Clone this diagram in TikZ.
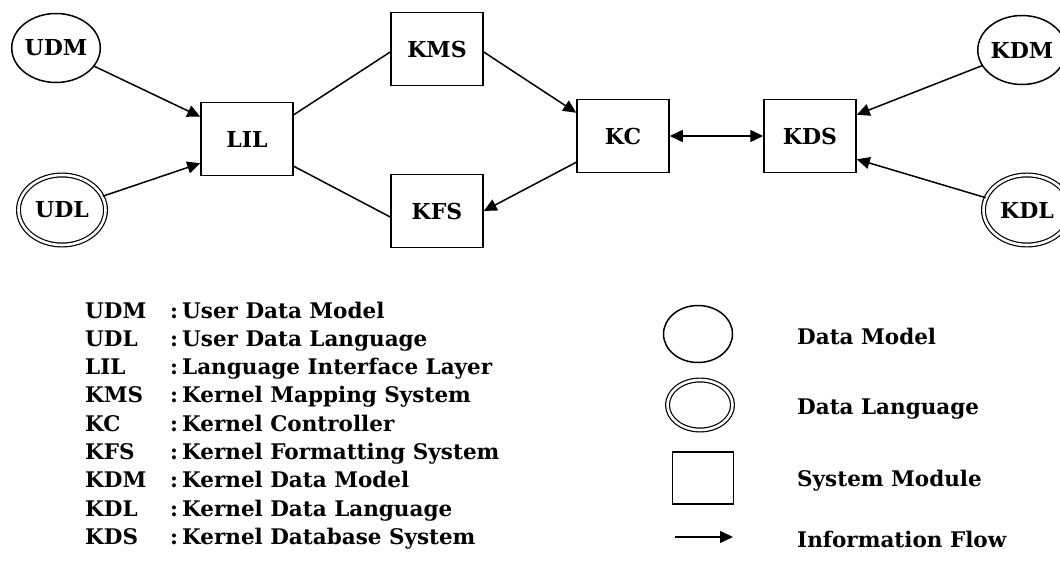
\documentclass[tikz,border=0pt]{standalone}
\usepackage{fontspec}
\setmainfont{DejaVu Serif}
\usetikzlibrary{shapes.geometric,arrows.meta,calc}
\begin{document}
\begin{tikzpicture}[x=1pt,y=-1pt,
  lbl/.style={font=\fontsize{22}{26}\selectfont\bfseries},
  mod/.style={draw, line width=1.5pt, minimum width=92pt, minimum height=73pt, inner sep=0pt, lbl},
  dm/.style={draw, ellipse, line width=1.5pt, minimum width=87pt, minimum height=69pt, inner sep=0pt, lbl},
  dl/.style={draw, ellipse, double, double distance=2.6pt, line width=1.2pt, minimum width=87pt, minimum height=70pt, inner sep=0pt, lbl},
  tip/.tip={Triangle[length=13pt,width=12pt]},
  flow/.style={line width=1.5pt, -tip},
  link/.style={line width=1.5pt},
  leg/.style={anchor=base west, inner sep=0pt, font=\fontsize{21.5}{26}\selectfont\bfseries}
]
\fill[white] (0,0) rectangle (1060,567);
\useasboundingbox (0,0) rectangle (1060,567);

% diagram nodes
\node[dm] (UDM) at (56,48) {UDM};
\node[dl] (UDL) at (62,210) {UDL};
\node[mod] (LIL) at (247,139) {LIL};
\node[mod] (KMS) at (437,49) {KMS};
\node[mod] (KFS) at (437,211) {KFS};
\node[mod] (KC) at (623,136) {KC};
\node[mod] (KDS) at (810,136) {KDS};
\node[dm] (KDM) at (1022,50) {KDM};
\node[dl] (KDL) at (1027,210) {KDL};

% connectors
\draw[flow] (UDM) -- ($(LIL.north west)+(0,15)$);
\draw[flow] (UDL) -- ($(LIL.south west)+(0,-13)$);
\draw[link] ($(LIL.north east)+(0,13)$) -- ($(KMS.west)+(0,3)$);
\draw[link] ($(LIL.south east)+(0,-10)$) -- ($(KFS.west)+(0,6)$);
\draw[flow] ($(KMS.east)+(0,3)$) -- ($(KC.north west)+(0,14)$);
\draw[flow] ($(KC.south west)+(0,-11)$) -- (KFS.east);
\draw[flow, tip-tip] (KC.east) -- (KDS.west);
\draw[flow] (KDM) -- ($(KDS.north east)+(0,16)$);
\draw[flow] (KDL) -- ($(KDS.south east)+(0,-14)$);

% abbreviation legend
\node[leg] (r1) at (85,318) {\makebox[85pt][l]{UDM}\makebox[12pt][l]{:}User Data Model};
\node[leg] (r2) at (85,346.3) {\makebox[85pt][l]{UDL}\makebox[12pt][l]{:}User Data Language};
\node[leg] (r3) at (85,374.6) {\makebox[85pt][l]{LIL}\makebox[12pt][l]{:}Language Interface Layer};
\node[leg] (r4) at (85,402.9) {\makebox[85pt][l]{KMS}\makebox[12pt][l]{:}Kernel Mapping System};
\node[leg] (r5) at (85,431.2) {\makebox[85pt][l]{KC}\makebox[12pt][l]{:}Kernel Controller};
\node[leg] (r6) at (85,459.5) {\makebox[85pt][l]{KFS}\makebox[12pt][l]{:}Kernel Formatting System};
\node[leg] (r7) at (85,487.8) {\makebox[85pt][l]{KDM}\makebox[12pt][l]{:}Kernel Data Model};
\node[leg] (r8) at (85,516.1) {\makebox[85pt][l]{KDL}\makebox[12pt][l]{:}Kernel Data Language};
\node[leg] (r9) at (85,544.4) {\makebox[85pt][l]{KDS}\makebox[12pt][l]{:}Kernel Database System};

% symbol legend
\node[draw, ellipse, line width=1.5pt, minimum width=69pt, minimum height=57pt, inner sep=0pt] (lgDM) at (698,334) {};
\node[dl, minimum width=65pt, minimum height=50pt] (lgDL) at (700,405) {};
\node[draw, line width=1.5pt, minimum width=61pt, minimum height=52pt, inner sep=0pt] (lgSM) at (703,478) {};
\coordinate (lgA) at (675,537);
\coordinate (lgB) at (733,537);
\draw[flow] (lgA) -- (lgB);
\node[leg] (tDM) at (797,344) {Data Model};
\node[leg] (tDL) at (797,414) {Data Language};
\node[leg] (tSM) at (797,486) {System Module};
\node[leg] (tIF) at (797,547) {Information Flow};
\end{tikzpicture}
\end{document}
